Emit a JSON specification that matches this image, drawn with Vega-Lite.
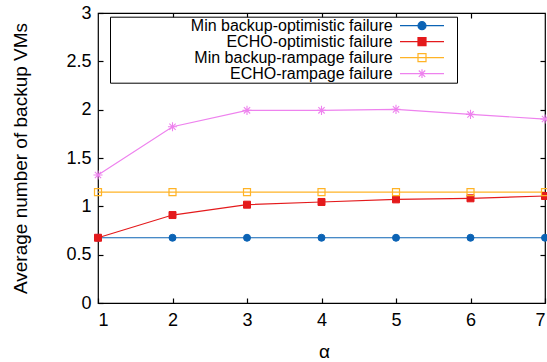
{
  "$schema": "https://vega.github.io/schema/vega-lite/v6.json",
  "width": 447,
  "height": 290,
  "autosize": {"type": "none"},
  "padding": {"left": 98, "top": 13, "right": 2, "bottom": 59},
  "background": "white",
  "config": {
    "font": "Liberation Sans",
    "view": {"stroke": "black", "strokeWidth": 1.2},
    "axis": {"grid": false, "domain": false, "tickColor": "black", "tickSize": -5, "tickWidth": 1.2, "labelColor": "black", "labelFontSize": 18, "titleFontSize": 19, "titleFontWeight": "normal", "titleColor": "black", "labelFont": "Liberation Sans", "titleFont": "Liberation Sans"}
  },
  "data": {"values": [
    {"alpha": 1, "series": "Min backup-optimistic failure", "value": 0.675},
    {"alpha": 2, "series": "Min backup-optimistic failure", "value": 0.675},
    {"alpha": 3, "series": "Min backup-optimistic failure", "value": 0.675},
    {"alpha": 4, "series": "Min backup-optimistic failure", "value": 0.675},
    {"alpha": 5, "series": "Min backup-optimistic failure", "value": 0.675},
    {"alpha": 6, "series": "Min backup-optimistic failure", "value": 0.675},
    {"alpha": 7, "series": "Min backup-optimistic failure", "value": 0.675},
    {"alpha": 1, "series": "ECHO-optimistic failure", "value": 0.675},
    {"alpha": 2, "series": "ECHO-optimistic failure", "value": 0.91},
    {"alpha": 3, "series": "ECHO-optimistic failure", "value": 1.017},
    {"alpha": 4, "series": "ECHO-optimistic failure", "value": 1.045},
    {"alpha": 5, "series": "ECHO-optimistic failure", "value": 1.072},
    {"alpha": 6, "series": "ECHO-optimistic failure", "value": 1.083},
    {"alpha": 7, "series": "ECHO-optimistic failure", "value": 1.107},
    {"alpha": 1, "series": "Min backup-rampage failure", "value": 1.148},
    {"alpha": 2, "series": "Min backup-rampage failure", "value": 1.148},
    {"alpha": 3, "series": "Min backup-rampage failure", "value": 1.148},
    {"alpha": 4, "series": "Min backup-rampage failure", "value": 1.148},
    {"alpha": 5, "series": "Min backup-rampage failure", "value": 1.148},
    {"alpha": 6, "series": "Min backup-rampage failure", "value": 1.148},
    {"alpha": 7, "series": "Min backup-rampage failure", "value": 1.148},
    {"alpha": 1, "series": "ECHO-rampage failure", "value": 1.324},
    {"alpha": 2, "series": "ECHO-rampage failure", "value": 1.823},
    {"alpha": 3, "series": "ECHO-rampage failure", "value": 1.993},
    {"alpha": 4, "series": "ECHO-rampage failure", "value": 1.993},
    {"alpha": 5, "series": "ECHO-rampage failure", "value": 2.003},
    {"alpha": 6, "series": "ECHO-rampage failure", "value": 1.951},
    {"alpha": 7, "series": "ECHO-rampage failure", "value": 1.903}
  ]},
  "resolve": {"axis": {"x": "independent", "y": "independent"}},
  "layer": [
    {
      "mark": {"type": "line", "strokeWidth": 1.2},
      "encoding": {
        "x": {"field": "alpha", "type": "quantitative", "scale": {"domain": [1, 7], "nice": false, "zero": false},
              "axis": {"orient": "bottom", "values": [1, 2, 3, 4, 5, 6, 7], "labelPadding": 13, "title": "α", "titleX": 226, "titleY": 54, "titleBaseline": "alphabetic", "titleAlign": "center"}},
        "y": {"field": "value", "type": "quantitative", "scale": {"domain": [0, 3], "nice": false},
              "axis": {"orient": "left", "values": [0, 0.5, 1, 1.5, 2, 2.5, 3], "format": "~g", "labelPadding": 12, "title": "Average number of backup VMs", "titleX": -78, "titleY": 145, "titleAngle": -90, "titleAlign": "center", "titleBaseline": "middle"}},
        "stroke": {"field": "series", "type": "nominal",
                   "scale": {"domain": ["Min backup-optimistic failure", "ECHO-optimistic failure", "Min backup-rampage failure", "ECHO-rampage failure"], "range": ["#0b63b5", "#e41a1c", "#ffb326", "#ee82ee"]}}
      }
    },
    {
      "transform": [{"filter": "false"}],
      "mark": {"type": "point", "filled": true, "opacity": 1, "strokeWidth": 1.2, "size": 64},
      "encoding": {
        "x": {"field": "alpha", "type": "quantitative", "axis": {"orient": "top", "values": [2, 3, 4, 5, 6], "labels": false, "title": null}},
        "y": {"field": "value", "type": "quantitative", "axis": {"orient": "right", "values": [0.5, 1, 1.5, 2, 2.5], "labels": false, "title": null}},
        "stroke": {"field": "series", "type": "nominal"},
        "fill": {"field": "series", "type": "nominal",
                 "scale": {"domain": ["Min backup-optimistic failure", "ECHO-optimistic failure", "Min backup-rampage failure", "ECHO-rampage failure"], "range": ["#0b63b5", "#e41a1c", "transparent", "#ee82ee"]}},
        "shape": {"field": "series", "type": "nominal",
                  "scale": {"domain": ["Min backup-optimistic failure", "ECHO-optimistic failure", "Min backup-rampage failure", "ECHO-rampage failure"],
                            "range": ["M-77,0L-77,0M-5.5,0H5.5M7.75,0L7.75,0M-1,0A1,1,0,1,0,1,0A1,1,0,1,0,-1,0Z", "M-77,0L-77,0M-5.5,0H5.5M7.75,0L7.75,0M-1,-1H1V1H-1Z", "M-77,0L-77,0M-5.5,0H5.5M7.75,0L7.75,0M-1,-1H1V1H-1Z", "M-77,0L-77,0M-5.5,0H5.5M7.75,0L7.75,0M0,-1.1V1.1M-0.8,-0.8L0.8,0.8M-0.8,0.8L0.8,-0.8"]},
                  "legend": {"title": null, "orient": "none", "legendX": 12, "legendY": 3.7, "symbolSize": 64, "symbolOffset": 303, "labelAlign": "right", "labelOffset": -37.3, "labelLimit": 0, "labelFontSize": 16, "labelFont": "Liberation Sans", "labelColor": "black", "strokeColor": "black", "fillColor": "white", "padding": 1, "rowPadding": 0, "symbolStrokeWidth": 1.2}}
      }
    },
    {
      "transform": [{"filter": "datum.series === 'Min backup-optimistic failure'"}],
      "mark": {"type": "point", "shape": "circle", "filled": true, "opacity": 1, "fill": "#0b63b5", "stroke": "#0b63b5", "strokeWidth": 1, "size": 49},
      "encoding": {"x": {"field": "alpha", "type": "quantitative", "axis": null}, "y": {"field": "value", "type": "quantitative", "axis": null}}
    },
    {
      "transform": [{"filter": "datum.series === 'ECHO-optimistic failure'"}],
      "mark": {"type": "point", "shape": "square", "filled": true, "opacity": 1, "fill": "#e41a1c", "stroke": "#e41a1c", "strokeWidth": 1, "size": 49},
      "encoding": {"x": {"field": "alpha", "type": "quantitative", "axis": null}, "y": {"field": "value", "type": "quantitative", "axis": null}}
    },
    {
      "transform": [{"filter": "datum.series === 'Min backup-rampage failure'"}],
      "mark": {"type": "point", "shape": "square", "filled": false, "opacity": 1, "fill": "transparent", "stroke": "#ffb326", "strokeWidth": 1.2, "size": 49},
      "encoding": {"x": {"field": "alpha", "type": "quantitative", "axis": null}, "y": {"field": "value", "type": "quantitative", "axis": null}}
    },
    {
      "transform": [{"filter": "datum.series === 'ECHO-rampage failure'"}],
      "mark": {"type": "point", "shape": "M-1.3,0H1.3M0,-1.3V1.3M-0.9,-0.9L0.9,0.9M-0.9,0.9L0.9,-0.9", "filled": false, "opacity": 1, "stroke": "#ee82ee", "strokeWidth": 1.1, "size": 49},
      "encoding": {"x": {"field": "alpha", "type": "quantitative", "axis": null}, "y": {"field": "value", "type": "quantitative", "axis": null}}
    }
  ]
}
